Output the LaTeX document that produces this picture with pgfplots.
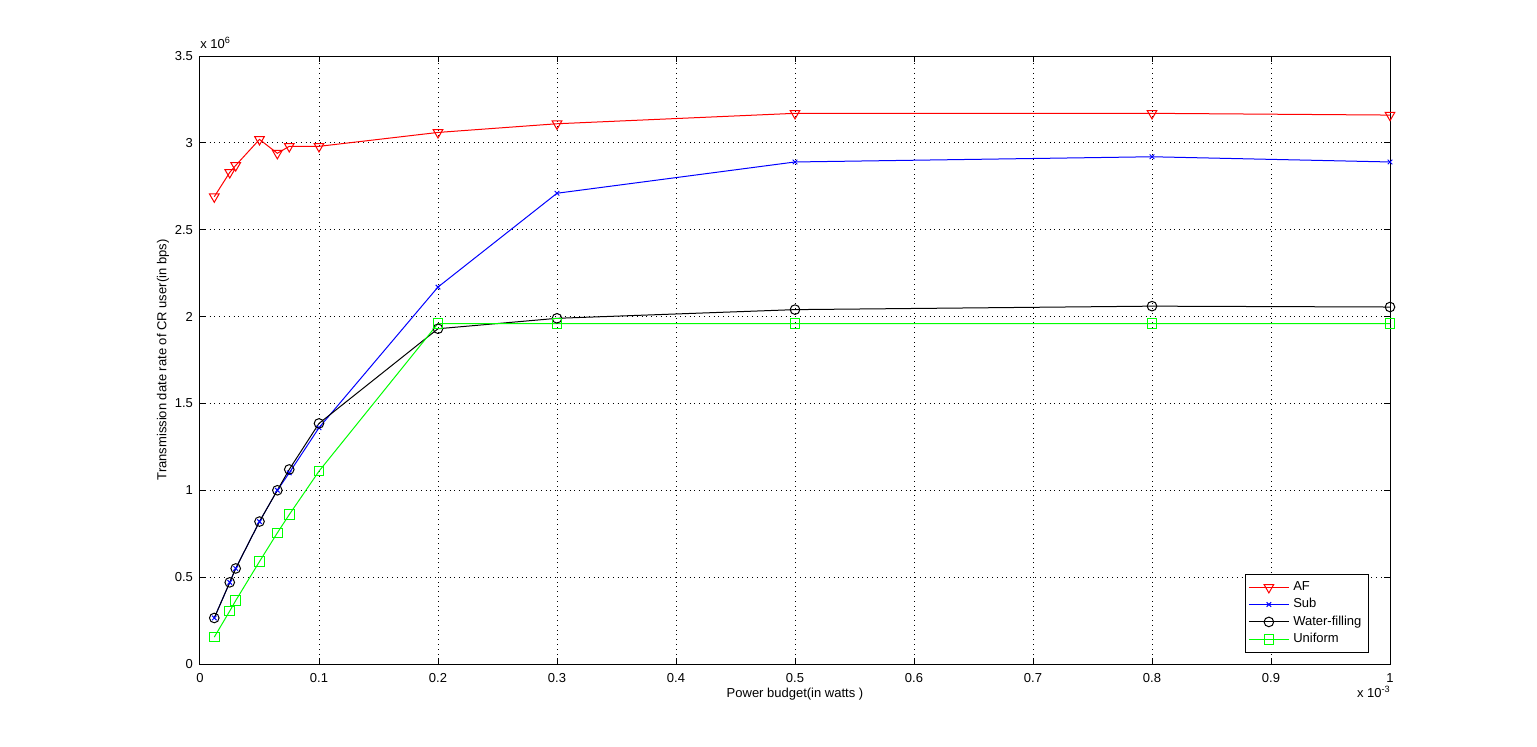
\documentclass[border=0pt]{standalone}
\usepackage{pgfplots}
\pgfplotsset{compat=1.18}
\usepackage{fontspec}
\setmainfont{Liberation Sans}
\begin{document}
\begin{tikzpicture}
\path[use as bounding box] (-100pt,-41pt) rectangle (668.5pt,332pt);
\begin{axis}[
  at={(0,0)}, anchor=south west,
  scale only axis, width=595pt, height=304pt,
  xmin=0, xmax=1, ymin=0, ymax=3.5,
  xtick={0,0.1,...,1}, ytick={0,0.5,...,3.5},
  xticklabels={0,0.1,0.2,0.3,0.4,0.5,0.6,0.7,0.8,0.9,1},
  yticklabels={0,0.5,1,1.5,2,2.5,3,3.5},
  tick align=inside, tick pos=both,
  major tick length=3pt,
  grid=major,
  grid style={black, dotted, line width=0.5pt},
  axis line style={line width=0.5pt},
  tick style={black, line width=0.5pt},
  /pgf/number format/assume math mode=true,
  tick label style={font=\fontsize{6.5}{8}\selectfont},
  xticklabel style={yshift=-1pt},
  label style={font=\fontsize{6.5}{8}\selectfont},
  xlabel={Power budget(in watts )},
  ylabel={Transmission date rate of CR user(in bps)},
  xlabel style={yshift=4pt},
  ylabel style={yshift=-4pt},
  legend style={at={(0.9823,0.018)}, anchor=south east, font=\fontsize{6.5}{8}\selectfont,
    draw=black, line width=0.5pt, inner sep=1.5pt, row sep=-1.5pt, cells={anchor=west}},
  legend cell align=left,
  legend image code/.code={\draw[mark repeat=2,mark phase=2] plot coordinates {(0cm,0cm) (0.35cm,0cm) (0.7cm,0cm)};},
  every axis plot/.append style={line width=0.5pt},
  clip=false,
]
\addplot[color=red, mark=triangle, mark size=2.8pt, mark options={rotate=180, solid, fill=none}]
coordinates {(0.012,2.69) (0.025,2.83) (0.03,2.87) (0.05,3.02) (0.065,2.94) (0.075,2.98) (0.1,2.98) (0.2,3.06) (0.3,3.11) (0.5,3.17) (0.8,3.17) (1.0,3.16)};
\addlegendentry{AF}
\addplot[color=blue, mark=x, mark size=1.6pt]
coordinates {(0.012,0.265) (0.025,0.47) (0.03,0.55) (0.05,0.82) (0.065,1.0) (0.075,1.10) (0.1,1.36) (0.2,2.17) (0.3,2.71) (0.5,2.89) (0.8,2.92) (1.0,2.89)};
\addlegendentry{Sub}
\addplot[color=black, mark=o, mark size=2.4pt]
coordinates {(0.012,0.265) (0.025,0.47) (0.03,0.55) (0.05,0.82) (0.065,1.0) (0.075,1.12) (0.1,1.385) (0.2,1.93) (0.3,1.99) (0.5,2.04) (0.8,2.06) (1.0,2.055)};
\addlegendentry{Water-filling}
\addplot[color=green, mark=square, mark size=2.4pt]
coordinates {(0.012,0.155) (0.025,0.305) (0.03,0.365) (0.05,0.59) (0.065,0.755) (0.075,0.86) (0.1,1.11) (0.2,1.96) (0.3,1.96) (0.5,1.96) (0.8,1.96) (1.0,1.96)};
\addlegendentry{Uniform}
\node[anchor=south west, font=\fontsize{6.5}{8}\selectfont, inner sep=0pt] at (rel axis cs:0,1.012) {x 10\textsuperscript{6}};
\node[anchor=north west, font=\fontsize{6.5}{8}\selectfont, inner sep=0pt] at (rel axis cs:0.972,-0.035) {x 10\textsuperscript{-3}};
\end{axis}
\end{tikzpicture}
\end{document}
